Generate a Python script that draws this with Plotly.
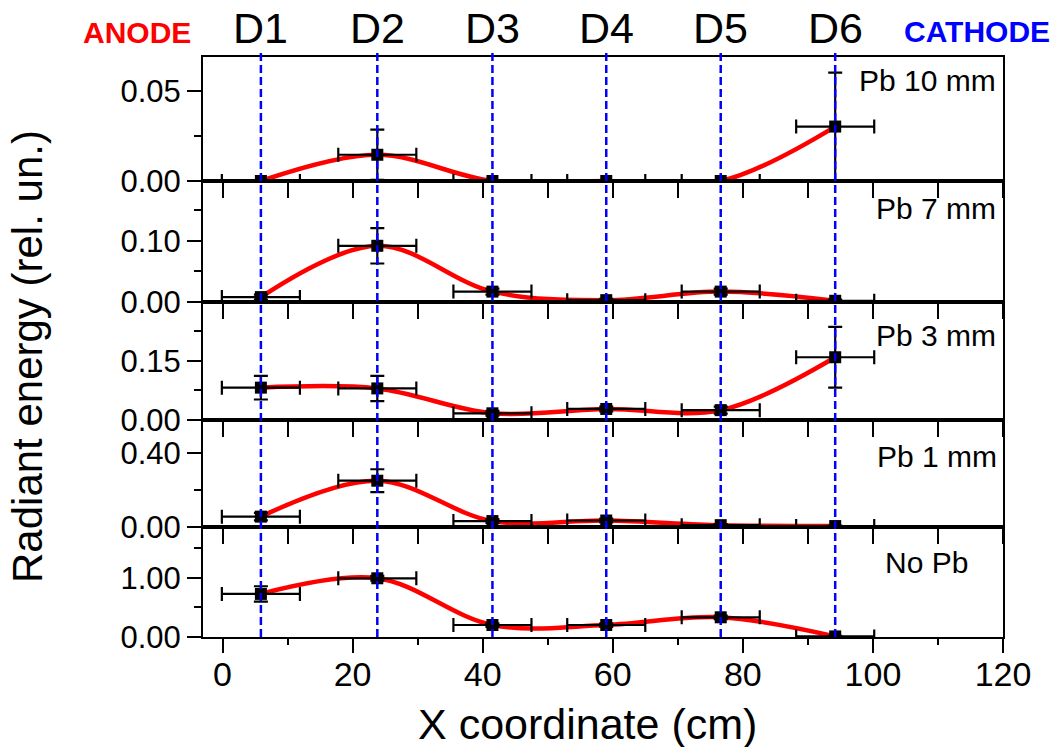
import plotly.graph_objects as go

# ---------------- data ----------------
det_labels = ["D1", "D2", "D3", "D4", "D5", "D6"]
det_x = [5.9, 23.8, 41.5, 59.0, 76.6, 94.2]
x_err = [6, 6, 6, 6, 6, 6]

panel_names = ["Pb 10 mm", "Pb 7 mm", "Pb 3 mm", "Pb 1 mm", "No Pb"]

pb10 = [0.0, 0.0146, 0.0, 0.0, 0.0, 0.0303]
pb10_err = [0.0, 0.014, 0.0, 0.0, 0.0, 0.030]

pb7 = [0.008, 0.092, 0.017, 0.003, 0.017, 0.002]
pb7_err = [0.004, 0.029, 0.005, 0.002, 0.005, 0.002]

pb3 = [0.082, 0.080, 0.017, 0.028, 0.025, 0.159]
pb3_err = [0.030, 0.032, 0.006, 0.006, 0.009, 0.077]

pb1 = [0.056, 0.250, 0.032, 0.035, 0.010, 0.005]
pb1_err = [0.020, 0.062, 0.010, 0.010, 0.005, 0.003]

nopb = [0.73, 0.995, 0.203, 0.203, 0.334, 0.01]
nopb_err = [0.13, 0.04, 0.03, 0.03, 0.03, 0.01]

series = [pb10, pb7, pb3, pb1, nopb]
series_err = [pb10_err, pb7_err, pb3_err, pb1_err, nopb_err]

y_ranges = [[0, 0.069], [0, 0.198], [0, 0.299], [0, 0.578], [0, 1.864]]
y_dticks = [0.05, 0.1, 0.15, 0.4, 1.0]
x_tickvals = [0, 20, 40, 60, 80, 100, 120]

# ---------------- layout geometry ----------------
W, H = 1058, 747
L, R, T, B = 203, 1003, 57, 637
PH = B - T
panel_px = [(57, 181), (181, 302), (302, 420), (420, 527), (527, 637)]


def py(p):
    return (B - p) / PH


def px(p):
    return (p - L) / (R - L)


FONT = "Liberation Sans, Arial, sans-serif"

fig = go.Figure()

for i, (ys, es) in enumerate(zip(series, series_err)):
    n = "" if i == 0 else str(i + 1)
    fig.add_trace(go.Scatter(
        x=det_x, y=ys, mode="lines",
        line=dict(color="#ff0000", width=4.5, shape="spline", smoothing=1.0),
        xaxis="x" + n, yaxis="y" + n, showlegend=False, hoverinfo="skip"))
    fig.add_trace(go.Scatter(
        x=det_x, y=ys, mode="markers",
        marker=dict(symbol="square", size=12, color="black"),
        error_x=dict(type="data", array=x_err, color="black", thickness=2.2, width=7),
        error_y=dict(type="data", array=es, color="black", thickness=2.2, width=7),
        xaxis="x" + n, yaxis="y" + n, showlegend=False))

layout = dict(
    width=W, height=H,
    margin=dict(l=L, r=W - R, t=T, b=H - B, pad=0),
    paper_bgcolor="white", plot_bgcolor="white",
    font=dict(family=FONT, color="black"),
    showlegend=False,
)

for i in range(5):
    n = "" if i == 0 else str(i + 1)
    top, bot = panel_px[i]
    dom = [py(bot), py(top)]
    xa = dict(
        domain=[0, 1], range=[-3, 120], anchor="y" + n,
        showline=True, linecolor="black", linewidth=2, mirror=True,
        showgrid=False, zeroline=False,
        ticks="outside", tickcolor="black", tickwidth=2,
    )
    if i < 4:
        xa.update(tickmode="linear", tick0=0, dtick=10, ticklen=15,
                  showticklabels=False, matches="x5")
    else:
        xa.update(tickmode="array", tickvals=x_tickvals, ticklen=14,
                  tickfont=dict(size=34, family=FONT),
                  minor=dict(dtick=10, tick0=0, ticklen=6, tickwidth=2,
                             tickcolor="black", ticks="outside"))
    ya = dict(
        domain=dom, range=y_ranges[i], anchor="x" + n,
        showline=True, linecolor="black", linewidth=2, mirror=True,
        showgrid=False, zeroline=False,
        ticks="outside", tickcolor="black", tickwidth=2, ticklen=14,
        tickmode="linear", tick0=0, dtick=y_dticks[i], tickformat=".2f",
        tickfont=dict(size=31, family=FONT),
        minor=dict(dtick=y_dticks[i] / 2, tick0=0, ticklen=7, tickwidth=2,
                   tickcolor="black", ticks="outside"),
    )
    layout["xaxis" + n] = xa
    layout["yaxis" + n] = ya

fig.update_layout(**layout)

try:
    fig.update_layout(xaxis5_ticklabelstandoff=-8)
except Exception:
    pass

# dashed detector lines
for xv in det_x:
    fig.add_shape(type="line", xref="x5", yref="paper", x0=xv, x1=xv,
                  y0=0, y1=py(52), layer="above",
                  line=dict(color="#0000ff", width=2.5, dash="8px,4px"))

# detector labels
for lab, xv in zip(det_labels, det_x):
    fig.add_annotation(text=lab, xref="x5", yref="paper", x=xv, y=py(28),
                       xanchor="center", yanchor="middle", showarrow=False,
                       font=dict(size=43, family=FONT, color="black"))

fig.add_annotation(text="<b>ANODE</b>", xref="paper", yref="paper",
                   x=px(137), y=py(33), xanchor="center", yanchor="middle",
                   showarrow=False, font=dict(size=30, family=FONT, color="#ff0000"))
fig.add_annotation(text="<b>CATHODE</b>", xref="paper", yref="paper",
                   x=px(977), y=py(31), xanchor="center", yanchor="middle",
                   showarrow=False, font=dict(size=30, family=FONT, color="#0000ff"))

# panel labels
label_pos = [(998, 80, "right"), (998, 209, "right"), (998, 335, "right"),
             (999, 456, "right"), (883, 562, "left")]
for name, (lx, ly, anc) in zip(panel_names, label_pos):
    fig.add_annotation(text=name, xref="paper", yref="paper",
                       x=px(lx), y=py(ly), xanchor=anc, yanchor="middle",
                       showarrow=False, font=dict(size=30, family=FONT, color="black"))

# axis titles
fig.add_annotation(text="Radiant energy (rel. un.)", xref="paper", yref="paper",
                   x=px(28), y=py(357), xanchor="center", yanchor="middle",
                   textangle=-90, showarrow=False,
                   font=dict(size=42, family=FONT, color="black"))
fig.add_annotation(text="X coordinate (cm)", xref="paper", yref="paper",
                   x=px(587), y=py(724), xanchor="center", yanchor="middle",
                   showarrow=False, font=dict(size=43, family=FONT, color="black"))

fig.write_html("out.html")
